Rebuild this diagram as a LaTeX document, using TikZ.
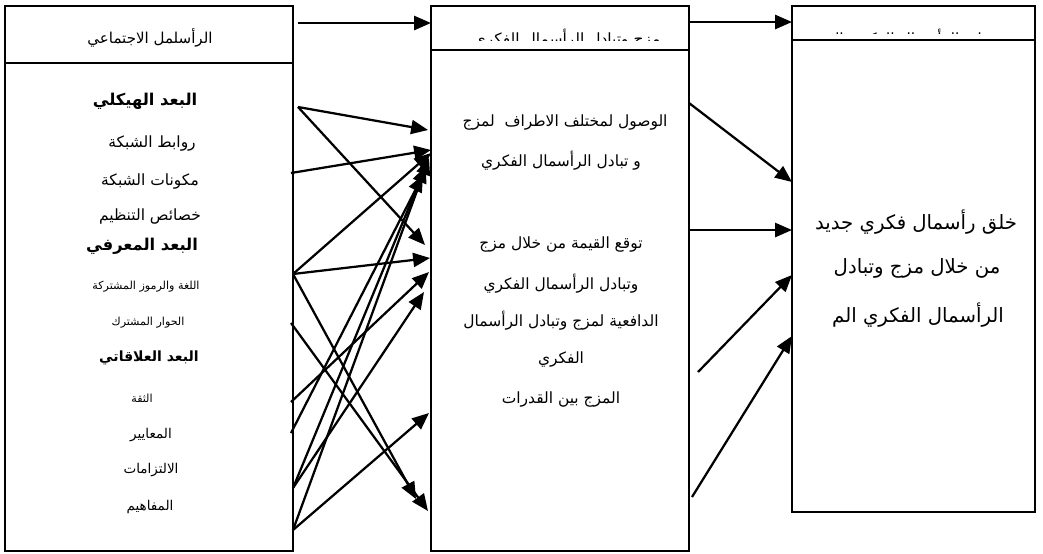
\documentclass[tikz,border=0pt]{standalone}
\usepackage{fontspec}
\usepackage{tikz}
\usetikzlibrary{arrows.meta,fit}
\TeXXeTstate=1
\newfontfamily\arabicfont[Script=Arabic]{DejaVu Sans}
\newcommand{\artext}[1]{\beginR #1\endR}
\tikzset{
  box/.style={
    draw,
    line width=1.1pt,
    inner sep=0pt
  },
  headtext/.style={
    font=\arabicfont\fontsize{10.7}{12}\selectfont
  },
  dimtext/.style={
    font=\arabicfont\bfseries\fontsize{11.6}{13}\selectfont
  },
  itemtext/.style={
    font=\arabicfont\fontsize{11}{13}\selectfont
  },
  smalltext/.style={
    font=\arabicfont\fontsize{7.9}{9}\selectfont
  },
  listtext/.style={
    font=\arabicfont\fontsize{9.6}{11}\selectfont
  },
  bodytext/.style={
    font=\arabicfont\fontsize{11}{13}\selectfont
  },
  goaltext/.style={
    font=\arabicfont\fontsize{14}{16}\selectfont
  },
  arrow/.style={-{Triangle[length=12pt,width=10pt]},line width=1.6pt}
}

\begin{document}
\begin{tikzpicture}[x=0.025cm,y=-0.025cm]
\useasboundingbox (0,0) rectangle (1043,553);

\node[box,fit={(5,6)(293,63)}] (lhead) {};
\node[box,fit={(5,63)(293,551)}] (lbody) {};
\node[box,fit={(431,6)(689,50)}] (mhead) {};
\node[box,fit={(431,50)(689,551)}] (mbody) {};
\node[box,fit={(792,6)(1035,40)}] (rhead) {};
\node[box,fit={(792,40)(1035,512)}] (rbody) {};

\node[headtext] (ltitle) at (150,38) {\artext{الرأسلمل الاجتماعي}};
\begin{scope}
  \clip (431,6) rectangle (689,40);
  \node[bodytext,anchor=base] (mtitle) at (567,44) {\artext{مزج وتبادل الرأسمال الفكري}};
\end{scope}
\begin{scope}
  \clip (792,6) rectangle (1035,33);
  \node[bodytext,anchor=base] (rtitle) at (898,44) {\artext{خلق الرأسمال الفكري الجديد}};
\end{scope}

\node[dimtext] (d1) at (145,101) {\artext{البعد الهيكلي}};
\node[itemtext] (i1) at (152,144) {\artext{روابط الشبكة}};
\node[itemtext] (i2) at (150,182) {\artext{مكونات الشبكة}};
\node[itemtext] (i3) at (150,217) {\artext{خصائص التنظيم}};
\node[dimtext] (d2) at (142,246) {\artext{البعد المعرفي}};
\node[smalltext] (i4) at (146,287) {\artext{اللغة والرموز المشتركة}};
\node[smalltext] (i5) at (148,323) {\artext{الحوار المشترك}};
\node[dimtext,font=\arabicfont\bfseries\fontsize{10}{12}\selectfont] (d3) at (149,358) {\artext{البعد العلاقاتي}};
\node[smalltext] (i6) at (142,398) {\artext{الثقة}};
\node[listtext] (i7) at (151,435) {\artext{المعايير}};
\node[listtext] (i8) at (151,470) {\artext{الالتزامات}};
\node[listtext] (i9) at (150,507) {\artext{المفاهيم}};

\node[bodytext] (m1) at (565,123) {\artext{الوصول لمختلف الاطراف \ لمزج}};
\node[bodytext] (m2) at (561,161) {\artext{و تبادل الرأسمال الفكري}};
\node[bodytext] (m3) at (561,245) {\artext{توقع القيمة من خلال مزج}};
\node[bodytext] (m4) at (561,284) {\artext{وتبادل الرأسمال الفكري}};
\node[bodytext] (m5) at (561,321) {\artext{الدافعية لمزج وتبادل الرأسمال}};
\node[bodytext] (m6) at (561,360) {\artext{الفكري}};
\node[bodytext] (m7) at (561,400) {\artext{المزج بين القدرات}};

\node[goaltext] (r1) at (916,222) {\artext{خلق رأسمال فكري جديد}};
\node[goaltext] (r2) at (917,268) {\artext{من خلال مزج وتبادل}};
\node[goaltext] (r3) at (918,315) {\artext{الرأسمال الفكري الم}};

\coordinate (lt) at (298,23);
\coordinate (la) at (298,107);
\coordinate (lb) at (291,173);
\coordinate (lc) at (293,274);
\coordinate (ld) at (291,323);
\coordinate (le) at (291,402);
\coordinate (lf) at (291,433);
\coordinate (lg) at (293,488);
\coordinate (lh) at (293,530);

\coordinate (mt) at (431,23);
\coordinate (ma) at (428,130);
\coordinate (mb) at (431,150);
\coordinate (mc) at (431,153);
\coordinate (mf) at (423,175);
\coordinate (mg) at (426,166);
\coordinate (mh) at (429,158);
\coordinate (mi) at (425,245);
\coordinate (mj) at (430,258);
\coordinate (mk) at (429,272);
\coordinate (ml) at (424,292);
\coordinate (mm) at (429,413);
\coordinate (mn) at (416,499);
\coordinate (mo) at (428,511);

\coordinate (nt) at (689,22);
\coordinate (na) at (689,103);
\coordinate (nb) at (689,230);
\coordinate (nc) at (698,372);
\coordinate (nd) at (692,497);

\coordinate (rt) at (792,22);
\coordinate (ra) at (792,182);
\coordinate (rb) at (792,230);
\coordinate (rc) at (792,275);
\coordinate (rd) at (792,336);

\draw[arrow] (lt) -- (mt);
\draw[arrow] (la) -- (ma);
\draw[arrow] (la) -- (mi);
\draw[arrow] (lb) -- (mb);
\draw[arrow] (lc) -- (mc);
\draw[arrow] (lc) -- (mj);
\draw[arrow] (lc) -- (mn);
\draw[arrow] (ld) -- (mo);
\draw[arrow] (le) -- (mk);
\draw[arrow] (lf) -- (mf);
\draw[arrow] (lg) -- (ml);
\draw[arrow] (lg) -- (mg);
\draw[arrow] (lh) -- (mh);
\draw[arrow] (lh) -- (mm);

\draw[arrow] (nt) -- (rt);
\draw[arrow] (na) -- (ra);
\draw[arrow] (nb) -- (rb);
\draw[arrow] (nc) -- (rc);
\draw[arrow] (nd) -- (rd);

\end{tikzpicture}
\end{document}
